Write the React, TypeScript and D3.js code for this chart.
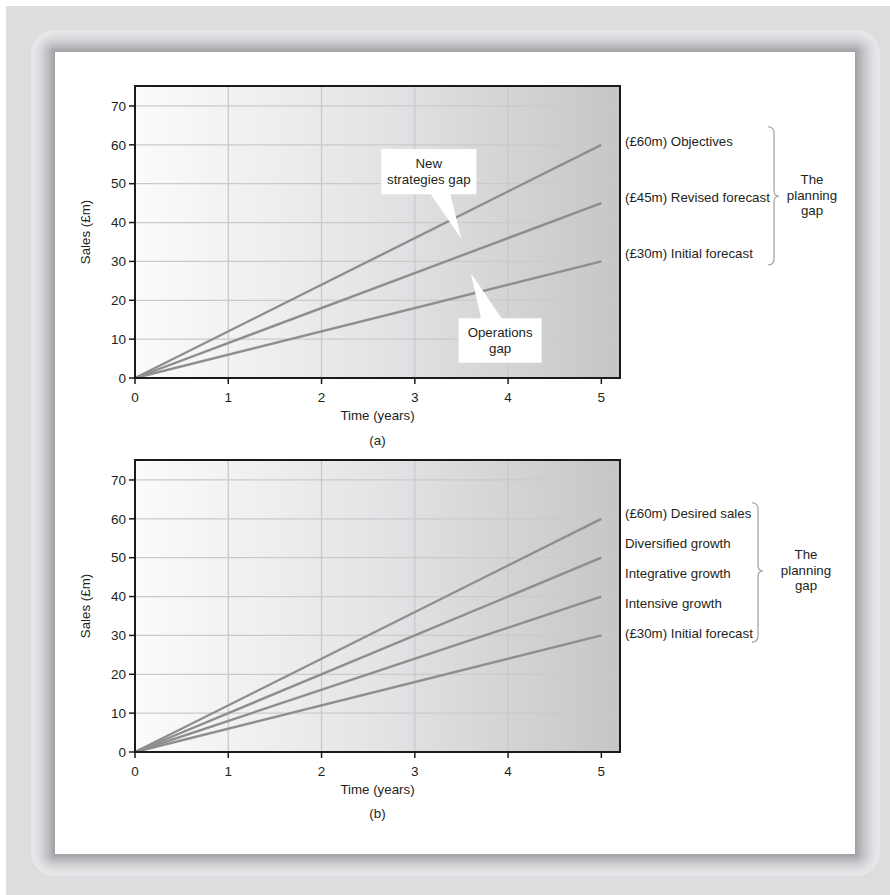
import React from "react";
import * as d3 from "d3";

// ---- data ----
const xTicks = [0, 1, 2, 3, 4, 5];
const yTicks = [0, 10, 20, 30, 40, 50, 60, 70];

// chart (a)
const seriesA = [
  { name: "Objectives", end: 60 },
  { name: "Revised forecast", end: 45 },
  { name: "Initial forecast", end: 30 },
];
const labelsA = ["(£60m) Objectives", "(£45m) Revised forecast", "(£30m) Initial forecast"];
const labelValsA = [61, 46.6, 32.2];
const braceA = [64.6, 29.1, 46.8];

// chart (b)
const seriesB = [
  { name: "Desired sales", end: 60 },
  { name: "Diversified", end: 50 },
  { name: "Integrative", end: 40 },
  { name: "Initial forecast", end: 30 },
];
const labelsB = [
  "(£60m) Desired sales",
  "Diversified growth",
  "Integrative growth",
  "Intensive growth",
  "(£30m) Initial forecast",
];
const labelValsB = [61.5, 53.8, 46.1, 38.3, 30.6];
const braceB = [64.1, 28.3, 46.6];

// callouts (chart a), in data units
const calloutNew = { x0: 2.64, x1: 3.66, y0: 58.9, y1: 47.3, b0: 3.17, b1: 3.38, tx: 3.5, ty: 35.8, lines: ["New", "strategies gap"] };
const calloutOps = { x0: 3.47, x1: 4.36, y0: 15.4, y1: 3.9, b0: 3.71, b1: 3.93, tx: 3.6, ty: 27.0, lines: ["Operations", "gap"] };

const FONT = "'Liberation Sans', Arial, Helvetica, sans-serif";
const TXT = "#231f20";

function Brace({ x, yTop, yBot, yMid }: { x: number; yTop: number; yBot: number; yMid: number }) {
  const x0 = x, x1 = x + 6, x2 = x + 11, r = 6;
  const d = `M${x0},${yTop} Q${x1},${yTop} ${x1},${yTop + r} L${x1},${yMid - r} Q${x1},${yMid} ${x2},${yMid} Q${x1},${yMid} ${x1},${yMid + r} L${x1},${yBot - r} Q${x1},${yBot} ${x0},${yBot}`;
  return <path d={d} fill="none" stroke="#a8a8a8" strokeWidth={1.3} />;
}

function Panel({
  top, id, series, labels, labelVals, brace, braceX, gapX, caption, callouts,
}: any) {
  const left = 135, right = 620, h = 292;
  const x = d3.scaleLinear().domain([0, 5.2]).range([left, left + (right - left)]);
  const y = d3.scaleLinear().domain([0, 75.14]).range([top + h, top]);
  const line = d3.line<[number, number]>().x((d) => x(d[0])).y((d) => y(d[1]));
  const gid = "grad" + id;
  return (
    <g>
      <defs>
        <linearGradient id={gid} x1="0" x2="1" y1="0" y2="0">
          <stop offset="0" stopColor="#fbfbfb" />
          <stop offset="0.5" stopColor="#e3e4e6" />
          <stop offset="1" stopColor="#c5c6c8" />
        </linearGradient>
      </defs>
      <rect x={x(0)} y={y(75.14)} width={x(5.2) - x(0)} height={y(0) - y(75.14)} fill={`url(#${gid})`} />
      {yTicks.filter((t) => t > 0).map((t) => (
        <line key={"gy" + t} x1={x(0)} x2={x(5.2)} y1={y(t)} y2={y(t)} stroke="#c9cacc" strokeWidth={1.3} />
      ))}
      {xTicks.filter((t) => t > 0).map((t) => (
        <line key={"gx" + t} x1={x(t)} x2={x(t)} y1={y(0)} y2={y(75.14)} stroke="#c9cacc" strokeWidth={1.3} />
      ))}
      {series.map((s: any) => (
        <path key={s.name} d={line([[0, 0], [5, s.end]]) || ""} fill="none" stroke="#8e8e90" strokeWidth={2.4} />
      ))}
      {callouts.map((c: any, i: number) => {
        const bx0 = x(c.x0), bx1 = x(c.x1), by0 = y(c.y0), by1 = y(c.y1);
        const pointDown = c.ty < c.y1;
        let d;
        if (pointDown) {
          d = `M${bx0},${by0} L${bx1},${by0} L${bx1},${by1} L${x(c.b1)},${by1} L${x(c.tx)},${y(c.ty)} L${x(c.b0)},${by1} L${bx0},${by1} Z`;
        } else {
          d = `M${bx0},${by0} L${x(c.b0)},${by0} L${x(c.tx)},${y(c.ty)} L${x(c.b1)},${by0} L${bx1},${by0} L${bx1},${by1} L${bx0},${by1} Z`;
        }
        const cx = (bx0 + bx1) / 2;
        const cy = (by0 + by1) / 2;
        return (
          <g key={"c" + i}>
            <path d={d} fill="#ffffff" />
            {c.lines.map((t: string, j: number) => (
              <text key={j} x={cx} y={cy + (j - (c.lines.length - 1) / 2) * 16} dy="0.35em" textAnchor="middle" fontSize={13.3} fill={TXT} fontFamily={FONT}>{t}</text>
            ))}
          </g>
        );
      })}
      {/* frame */}
      <rect x={x(0)} y={y(75.14)} width={x(5.2) - x(0)} height={y(0) - y(75.14)} fill="none" stroke="#1a1a1a" strokeWidth={2} />
      {/* ticks */}
      {yTicks.map((t) => (
        <g key={"ty" + t}>
          <line x1={x(0) - 6} x2={x(0)} y1={y(t)} y2={y(t)} stroke="#1a1a1a" strokeWidth={1.5} />
          <text x={x(0) - 9} y={y(t)} dy="0.35em" textAnchor="end" fontSize={13.5} fill={TXT} fontFamily={FONT}>{t}</text>
        </g>
      ))}
      {xTicks.map((t) => (
        <g key={"tx" + t}>
          <line x1={x(t)} x2={x(t)} y1={y(0)} y2={y(0) + 6} stroke="#1a1a1a" strokeWidth={1.5} />
          <text x={x(t)} y={y(0) + 19} dy="0.35em" textAnchor="middle" fontSize={13.5} fill={TXT} fontFamily={FONT}>{t}</text>
        </g>
      ))}
      <text x={(x(0) + x(5.2)) / 2} y={y(0) + 37} dy="0.35em" textAnchor="middle" fontSize={13.3} fill={TXT} fontFamily={FONT}>Time (years)</text>
      <text x={(x(0) + x(5.2)) / 2} y={y(0) + (id === "a" ? 62 : 61)} dy="0.35em" textAnchor="middle" fontSize={13.3} fill={TXT} fontFamily={FONT}>{caption}</text>
      <text transform={`translate(85,${(y(0) + y(75.14)) / 2}) rotate(-90)`} dy="0.35em" textAnchor="middle" fontSize={13.3} fill={TXT} fontFamily={FONT}>Sales (£m)</text>
      {labels.map((l: string, i: number) => (
        <text key={l} x={625} y={y(labelVals[i])} dy="0.35em" fontSize={13.3} fill={TXT} fontFamily={FONT}>{l}</text>
      ))}
      <Brace x={braceX} yTop={y(brace[0])} yBot={y(brace[1])} yMid={y(brace[2])} />
      {["The", "planning", "gap"].map((t, j) => (
        <text key={t} x={gapX} y={y(brace[2]) + (j - 1) * 15.5 - 1} dy="0.35em" textAnchor="middle" fontSize={13.3} fill={TXT} fontFamily={FONT}>{t}</text>
      ))}
    </g>
  );
}

function Frame() {
  const outer = { x0: 31, y0: 30, x1: 880, y1: 876 };
  const inner = { x0: 55, y0: 52, x1: 855, y1: 854 };
  const N = 24;
  const col = d3.interpolateRgb("#e6e7e9", "#9c9da1");
  const rects = [];
  for (let i = 0; i <= N; i++) {
    const t = i / N;
    const x0 = outer.x0 + (inner.x0 - outer.x0) * t;
    const y0 = outer.y0 + (inner.y0 - outer.y0) * t;
    const x1 = outer.x1 + (inner.x1 - outer.x1) * t;
    const y1 = outer.y1 + (inner.y1 - outer.y1) * t;
    rects.push(
      <rect key={i} x={x0} y={y0} width={x1 - x0} height={y1 - y0} rx={Math.max(24 * (1 - t), 0)} fill={col(Math.pow(t, 1.6))} />
    );
  }
  return (
    <g>
      <rect x={6} y={6} width={884} height={889} fill="#dcdddf" />
      {rects}
      <rect x={inner.x0} y={inner.y0} width={inner.x1 - inner.x0} height={inner.y1 - inner.y0} fill="#ffffff" />
    </g>
  );
}

export default function App() {
  return (
    <svg width={890} height={895} style={{ position: "absolute", left: 0, top: 0, background: "#fff" }}>
      <Frame />
      <Panel top={86} id="a" series={seriesA} labels={labelsA} labelVals={labelValsA} brace={braceA} braceX={768} gapX={812} caption="(a)" callouts={[calloutNew, calloutOps]} />
      <Panel top={460} id="b" series={seriesB} labels={labelsB} labelVals={labelValsB} brace={braceB} braceX={752} gapX={806} caption="(b)" callouts={[]} />
    </svg>
  );
}
